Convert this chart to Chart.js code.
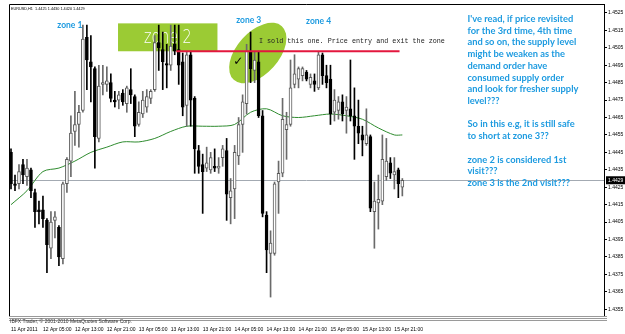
<!DOCTYPE html>
<html><head><meta charset="utf-8">
<script src="https://cdn.jsdelivr.net/npm/chart.js@4.4.0/dist/chart.umd.min.js"></script>
<style>html,body{margin:0;padding:0;background:#fff;overflow:hidden}canvas{display:block}</style>
</head><body>
<canvas id="c" width="625" height="334"></canvas>
<script>
// ---- data (EURUSD H1) ----
const openP = [1.4445,1.4427,1.4427,1.4438,1.4431,1.4435,1.4422,1.4412,1.4412,1.4406,
1.4390,1.4406,1.4402,1.4384,1.4427,1.4440,1.4457,1.4461,1.4469,1.4511,
1.4497,1.4493,1.4453,1.4484,1.4484,1.4485,1.4475,1.4475,1.4479,1.4473,
1.4481,1.4477,1.4461,1.4467,1.4471,1.4476,1.4481,1.4508,1.4504,1.4496,
1.4495,1.4507,1.4504,1.4497,1.4472,1.4501,1.4476,1.4446,1.4438,1.4436,
1.4435,1.4437,1.4436,1.4442,1.4446,1.4419,1.4424,1.4443,1.4461,1.4473,
1.4503,1.4492,1.4497,1.4466,1.4409,1.4387,1.4387,1.4428,1.4433,1.4458,
1.4461,1.4484,1.4487,1.4489,1.4491,1.4484,1.4486,1.4482,1.4501,1.4489,
1.4487,1.4468,1.4469,1.4474,1.4469,1.4470,1.4466,1.4460,1.4455,1.4450,
1.4454,1.4411,1.4416,1.4417,1.4431,1.4439,1.4432,1.4435,1.4425];
const highP = [1.4447,1.4432,1.4438,1.4441,1.4441,1.4436,1.4424,1.4417,1.4420,1.4407,
1.4411,1.4411,1.4403,1.4428,1.4442,1.4466,1.4480,1.4472,1.4518,1.4518,
1.4512,1.4494,1.4495,1.4495,1.4494,1.4490,1.4480,1.4480,1.4481,1.4483,
1.4493,1.4478,1.4474,1.4480,1.4481,1.4481,1.4512,1.4518,1.4514,1.4507,
1.4518,1.4518,1.4518,1.4502,1.4503,1.4503,1.4477,1.4449,1.4444,1.4448,
1.4445,1.4447,1.4442,1.4449,1.4453,1.4430,1.4449,1.4465,1.4478,1.4507,
1.4514,1.4503,1.4503,1.4469,1.4411,1.4400,1.4428,1.4440,1.4476,1.4468,
1.4498,1.4501,1.4494,1.4494,1.4492,1.4490,1.4490,1.4503,1.4502,1.4495,
1.4495,1.4481,1.4477,1.4478,1.4477,1.4498,1.4482,1.4475,1.4460,1.4470,
1.4455,1.4428,1.4432,1.4455,1.4453,1.4442,1.4442,1.4436,1.4430];
const lowP = [1.4424,1.4423,1.4424,1.4427,1.4426,1.4419,1.4402,1.4404,1.4402,1.4376,
1.4384,1.4396,1.4380,1.4381,1.4422,1.4431,1.4449,1.4448,1.4468,1.4481,
1.4474,1.4436,1.4451,1.4478,1.4480,1.4474,1.4471,1.4470,1.4472,1.4468,
1.4473,1.4454,1.4460,1.4465,1.4468,1.4473,1.4480,1.4492,1.4481,1.4482,
1.4492,1.4501,1.4484,1.4466,1.4460,1.4460,1.4433,1.4433,1.4410,1.4434,
1.4433,1.4434,1.4433,1.4437,1.4406,1.4404,1.4407,1.4438,1.4445,1.4467,
1.4485,1.4485,1.4465,1.4408,1.4376,1.4362,1.4386,1.4410,1.4431,1.4441,
1.4460,1.4482,1.4482,1.4486,1.4486,1.4482,1.4480,1.4481,1.4484,1.4482,
1.4461,1.4463,1.4464,1.4463,1.4456,1.4463,1.4441,1.4450,1.4443,1.4449,
1.4411,1.4390,1.4401,1.4415,1.4429,1.4430,1.4424,1.4419,1.4420];
const closeP = [1.4427,1.4426,1.4434,1.4432,1.4436,1.4423,1.4411,1.4411,1.4407,1.4392,
1.4405,1.4408,1.4385,1.4427,1.4441,1.4456,1.4461,1.4468,1.4510,1.4498,
1.4494,1.4454,1.4483,1.4485,1.4486,1.4476,1.4474,1.4478,1.4474,1.4482,
1.4478,1.4460,1.4468,1.4475,1.4477,1.4480,1.4508,1.4505,1.4497,1.4495,
1.4506,1.4503,1.4495,1.4471,1.4501,1.4475,1.4447,1.4437,1.4434,1.4439,
1.4442,1.4436,1.4437,1.4447,1.4421,1.4423,1.4445,1.4461,1.4474,1.4503,
1.4493,1.4498,1.4466,1.4410,1.4389,1.4393,1.4427,1.4433,1.4464,1.4461,
1.4482,1.4490,1.4493,1.4493,1.4487,1.4488,1.4484,1.4501,1.4489,1.4485,
1.4467,1.4475,1.4474,1.4467,1.4471,1.4466,1.4460,1.4456,1.4452,1.4455,
1.4413,1.4417,1.4418,1.4441,1.4440,1.4433,1.4434,1.4427,1.4429];
// moving average, read at every 4th bar
const maIndex = [0,4,8,12,16,20,24,28,32,36,40,44,48,52,56,60,64,68,72,76,80,84,88,92,96,98];
const maValue = [1.4415,1.4423,1.4434,1.4436,1.4440,1.4445,1.4448,1.4451,1.4451,1.4453,1.4457,1.4460,1.4460,1.4460,1.4461,1.4468,1.4470,1.4466,1.4465,1.4466,1.4467,1.4466,1.4464,1.4459,1.4455,1.4455];
const timeTickLabels = ["11 Apr 2011","12 Apr 05:00","12 Apr 13:00","12 Apr 21:00","13 Apr 05:00","13 Apr 13:00","13 Apr 21:00","14 Apr 05:00","14 Apr 13:00","14 Apr 21:00","15 Apr 05:00","15 Apr 13:00","15 Apr 21:00"];
const priceTicks = [1.4355,1.4365,1.4375,1.4385,1.4395,1.4405,1.4415,1.4425,1.4435,1.4445,1.4455,1.4465,1.4475,1.4485,1.4495,1.4505,1.4515,1.4525];
const currentPrice = 1.4429;
const headerText = "EURUSD,H1  1.4425 1.4430 1.4420 1.4429";
const copyrightText = "IBFX Trader, \u00a9 2001-2010 MetaQuotes Software Corp.";
const zoneLevel = 1.4503;        // red line price
const zoneLineFrom = 41.4, zoneLineTo = 97.3;   // bar indices
const zone2Box = {from: 26.8, to: 51.7, top: 1.4519, bottom: 1.4503};
const zone3Spot = {index: 61.8, price: 1.4502};
const zoneLabels = [
  {text: "zone 1", index: 11.6, price: 1.4518},
  {text: "zone 3", index: 56.4, price: 1.4521},
  {text: "zone 4", index: 73.9, price: 1.4520}
];
const noteText = "I sold this one. Price entry and exit the zone";
const noteAnchor = {index: 62.1, price: 1.4509};
const commentLines = ["I've read, if price revisited","for the 3rd time, 4th time","and so on, the supply level","might be weaken as the","demand order have","consumed supply order","and look for fresher supply","level???","","So in this e.g, it is still safe","to short at zone 3??","","zone 2 is considered 1st","visit???","zone 3 is the 2nd visit???"];
const commentAnchor = {index: 114.3, price: 1.45216};

// ---- categories: hourly bars starting 11 Apr 2011 21:00 (with empty space to the right) ----
const slotCount = 149;
const categories = [];
for (let k = 0; k < slotCount; k++) {
  const d = new Date(Date.UTC(2011, 3, 11, 21 + k));
  categories.push(d.getUTCDate() + " Apr " + String(d.getUTCHours()).padStart(2, "0") + ":00");
}

const isBull = openP.map((o, i) => closeP[i] >= o);
const bodies = openP.map((o, i) => [o, closeP[i]]);
const wicks = lowP.map((l, i) => [l, highP[i]]);
const bodyFill = isBull.map(b => b ? '#ffffff' : '#000000');
const bodyEdge = isBull.map(b => b ? '#5a5a5a' : '#000000');
const wickColor = isBull.map(b => b ? '#6a6a6a' : '#000000');
const maData = new Array(openP.length).fill(null);
maIndex.forEach((k, j) => { maData[k] = maValue[j]; });

const GREEN = '#9bcb34';
const BLUE = '#1e9be0';

const annot = {
  id: 'annot',
  beforeDraw(chart) {
    const c = chart.ctx; c.save(); c.fillStyle = '#fff'; c.fillRect(0, 0, chart.width, chart.height); c.restore();
  },
  beforeDatasetsDraw(chart) {
    const {ctx, scales: {x, y}, chartArea: a} = chart;
    ctx.save();
    // zone 2 box
    const bx1 = x.getPixelForValue(zone2Box.from), bx2 = x.getPixelForValue(zone2Box.to);
    const by1 = y.getPixelForValue(zone2Box.top), by2 = y.getPixelForValue(zone2Box.bottom);
    ctx.fillStyle = GREEN;
    ctx.fillRect(bx1, by1, bx2 - bx1, by2 - by1);
    ctx.fillStyle = '#fff';
    ctx.font = '300 19px "DejaVu Sans"';
    ctx.textAlign = 'center'; ctx.textBaseline = 'middle';
    ctx.save();
    ctx.translate((bx1 + bx2) / 2, (by1 + by2) / 2 + 1);
    ctx.scale(0.75, 1);
    ctx.fillText('zone 2', 0, 0);
    ctx.restore();
    // zone 3 ellipse
    const ex = x.getPixelForValue(zone3Spot.index), ey = y.getPixelForValue(zone3Spot.price);
    ctx.fillStyle = GREEN;
    ctx.beginPath(); ctx.ellipse(ex, ey, 36, 21, -0.84, 0, Math.PI * 2); ctx.fill();
    // current price line
    const py = Math.round(y.getPixelForValue(currentPrice)) + 0.5;
    ctx.strokeStyle = '#a3aab2'; ctx.lineWidth = 1;
    ctx.beginPath(); ctx.moveTo(a.left, py); ctx.lineTo(a.right, py); ctx.stroke();
    ctx.restore();
  },
  afterDatasetsDraw(chart) {
    const {ctx, scales: {x, y}, chartArea: a} = chart;
    ctx.save();
    // red zone line
    const ry = y.getPixelForValue(zoneLevel);
    ctx.strokeStyle = '#e3173e'; ctx.lineWidth = 2;
    ctx.beginPath(); ctx.moveTo(x.getPixelForValue(zoneLineFrom), ry); ctx.lineTo(x.getPixelForValue(zoneLineTo), ry); ctx.stroke();
    // check mark
    ctx.fillStyle = '#000'; ctx.font = '12px "DejaVu Sans"'; ctx.textAlign = 'center'; ctx.textBaseline = 'middle';
    ctx.fillText('\u2713', x.getPixelForValue(56.9), y.getPixelForValue(1.4497));
    // zone labels
    ctx.fillStyle = BLUE; ctx.font = 'bold 8.5px Lato'; ctx.textAlign = 'left';
    zoneLabels.forEach(z => ctx.fillText(z.text, x.getPixelForValue(z.index), y.getPixelForValue(z.price)));
    // note (monospace)
    ctx.fillStyle = '#222';
    ctx.font = '10px "Liberation Mono"';
    let w = ctx.measureText(noteText).width; const ns = 10 * 186 / w;
    ctx.font = ns.toFixed(2) + 'px "Liberation Mono"';
    ctx.fillText(noteText, x.getPixelForValue(noteAnchor.index), y.getPixelForValue(noteAnchor.price));
    // comment block
    ctx.fillStyle = BLUE;
    ctx.font = 'bold 10px Lato';
    w = ctx.measureText("and look for fresher supply").width; const cs = 10 * 111 / w;
    ctx.font = 'bold ' + cs.toFixed(2) + 'px Lato';
    const cx0 = x.getPixelForValue(commentAnchor.index), cy0 = y.getPixelForValue(commentAnchor.price);
    commentLines.forEach((t, k) => ctx.fillText(t, cx0, cy0 + k * 11.73));
    // frame
    ctx.strokeStyle = '#000'; ctx.lineWidth = 1;
    ctx.beginPath();
    ctx.moveTo(a.left + 0.5, a.bottom); ctx.lineTo(a.left + 0.5, a.top + 0.5); ctx.lineTo(a.right, a.top + 0.5);
    ctx.stroke();
    // bottom separator lines
    ctx.strokeStyle = '#9a9a9a';
    [0.5, 2.5, 4.5].forEach(o => { ctx.beginPath(); ctx.moveTo(a.left, a.bottom + o); ctx.lineTo(a.right + 3, a.bottom + o); ctx.stroke(); });
    // header
    ctx.fillStyle = '#000'; ctx.font = '3.8px "Liberation Sans"'; ctx.textAlign = 'left'; ctx.textBaseline = 'middle';
    ctx.fillText(headerText, a.left + 2, a.top + 5);
    // copyright
    ctx.font = '5px "Liberation Sans"'; ctx.fillStyle = '#333';
    ctx.fillText(copyrightText, a.left + 1, a.bottom + 5.5);
    // current price box on axis
    const py = y.getPixelForValue(currentPrice);
    ctx.fillStyle = '#000'; ctx.fillRect(a.right + 2, py - 4, 19, 8);
    ctx.fillStyle = '#fff'; ctx.font = '5px "Liberation Sans"';
    ctx.fillText(currentPrice.toFixed(4), a.right + 4, py + 0.5);
    ctx.restore();
  }
};

new Chart(document.getElementById('c'), {
  data: {
    labels: categories,
    datasets: [
      {type: 'bar', data: bodies, backgroundColor: bodyFill, borderColor: bodyEdge, borderWidth: 1, borderSkipped: false,
       barThickness: 3, minBarLength: 1, grouped: false, order: 1},
      {type: 'bar', data: wicks, backgroundColor: wickColor, borderWidth: 0, barThickness: 1, grouped: false, order: 2},
      {type: 'line', data: maData, spanGaps: true, borderColor: '#2f8c2f', borderWidth: 1, pointRadius: 0, tension: 0.3, order: 3}
    ]
  },
  options: {
    responsive: false, animation: false, devicePixelRatio: 1,
    layout: {padding: {left: 1, top: 1, right: 0, bottom: 0}},
    plugins: {legend: {display: false}, tooltip: {enabled: false}},
    scales: {
      x: {
        type: 'category', offset: true,
        grid: {display: false, drawTicks: false},
        border: {display: false},
        ticks: {autoSkip: false, maxRotation: 0, minRotation: 0, align: 'start', padding: 11,
          font: {size: 5, family: 'Liberation Sans'}, color: '#000',
          callback: (v, i) => (i % 8 === 0 && i / 8 < timeTickLabels.length) ? timeTickLabels[i / 8] : null},
        afterFit: s => { s.height = 18; }
      },
      y: {
        position: 'right', min: 1.435114, max: 1.453011,
        afterBuildTicks: s => { s.ticks = priceTicks.map(v => ({value: v})); },
        grid: {display: true, drawOnChartArea: false, tickLength: 3, color: '#000'},
        border: {display: true, color: '#000'},
        ticks: {font: {size: 5, family: 'Liberation Sans'}, color: '#000', padding: 1, callback: v => Number(v).toFixed(4)},
        afterFit: s => { s.width = 21; }
      }
    }
  },
  plugins: [annot]
});
</script>
</body></html>
